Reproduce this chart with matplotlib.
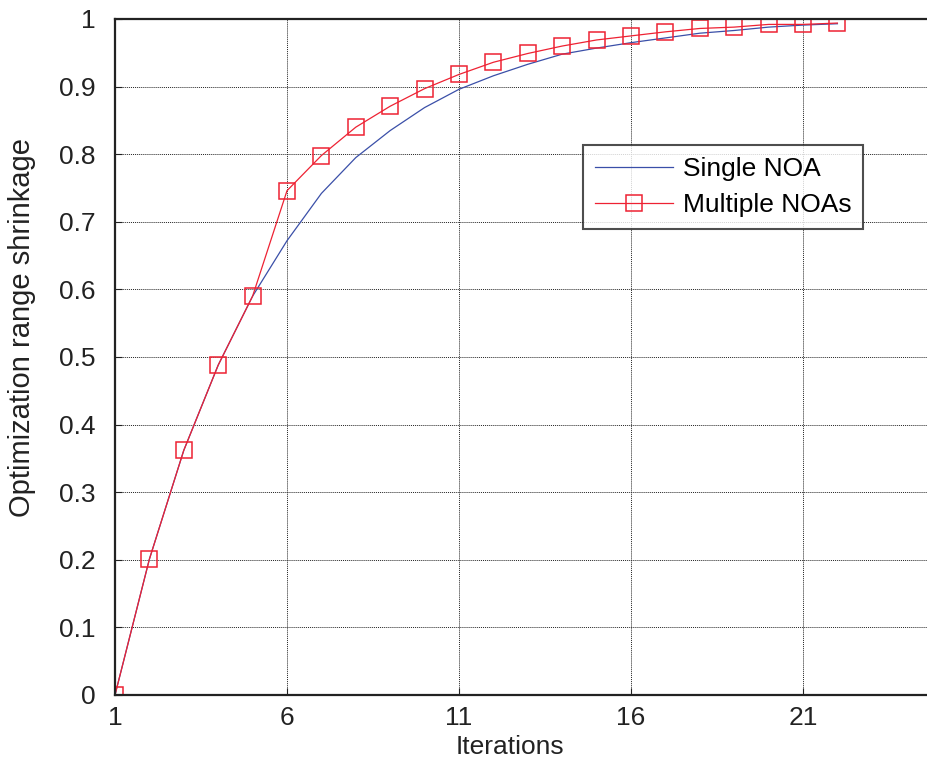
import matplotlib
matplotlib.use("Agg")
import matplotlib.pyplot as plt

iterations = list(range(1, 23))
single_noa = [0.0, 0.201, 0.362, 0.488, 0.590, 0.672, 0.742, 0.795, 0.835, 0.869,
              0.896, 0.916, 0.933, 0.948, 0.957, 0.965, 0.972, 0.979, 0.983, 0.988,
              0.991, 0.993]
multiple_noas = [0.0, 0.201, 0.362, 0.488, 0.590, 0.746, 0.798, 0.840, 0.871, 0.897,
                 0.918, 0.936, 0.949, 0.960, 0.969, 0.975, 0.981, 0.986, 0.988, 0.992,
                 0.992, 0.994]
x_ticks = [1, 6, 11, 16, 21]
y_ticks = [0, 0.1, 0.2, 0.3, 0.4, 0.5, 0.6, 0.7, 0.8, 0.9, 1]
y_tick_labels = ['0', '0.1', '0.2', '0.3', '0.4', '0.5', '0.6', '0.7', '0.8', '0.9', '1']

plt.rcParams['font.family'] = ['Liberation Sans', 'DejaVu Sans']

fig = plt.figure(figsize=(9.28, 7.69), dpi=100)
# axes run past the right edge, like the cropped original
ax = fig.add_axes([115 / 928, 74 / 769, 24 * 34.4 / 928, 676 / 769])

ax.plot(iterations, single_noa, color='#3a4fa8', lw=0.9, label='Single NOA')
ax.plot(iterations, multiple_noas, color='#ee2233', lw=0.9, marker='s', ms=12,
        mfc='none', mec='#ee2233', mew=1.1, label='Multiple NOAs')

ax.set_xlim(1, 25)
ax.set_ylim(0, 1)
ax.set_xticks(x_ticks)
ax.set_yticks(y_ticks)
ax.set_yticklabels(y_tick_labels)
ax.tick_params(axis='both', direction='in', labelsize=19, colors='#222222', length=5)
ax.tick_params(axis='y', pad=14)
ax.tick_params(axis='x', pad=8)

ax.grid(True, color='#222222', linestyle=(0, (1.0, 1.0)), linewidth=0.7)
for side in ['left', 'bottom', 'top']:
    ax.spines[side].set_color('#222222')
    ax.spines[side].set_linewidth(1.6)
ax.spines['right'].set_visible(False)

ax.set_xlabel('Iterations', fontsize=19, color='#222222')
ax.xaxis.set_label_coords(0.478, -0.059)
ax.set_ylabel('Optimization range shrinkage', fontsize=21, color='#222222')
ax.yaxis.set_label_coords(-0.096, 0.544)

leg = ax.legend(loc='upper left', bbox_to_anchor=(0.567, 0.8136),
                fontsize=19, frameon=True, fancybox=False, handlelength=2.95,
                borderpad=0.45, labelspacing=0.45, handletextpad=0.38, borderaxespad=0)
leg.get_frame().set_edgecolor('#222222')
leg.get_frame().set_linewidth(1.5)

fig.savefig('out.png', dpi=100)
